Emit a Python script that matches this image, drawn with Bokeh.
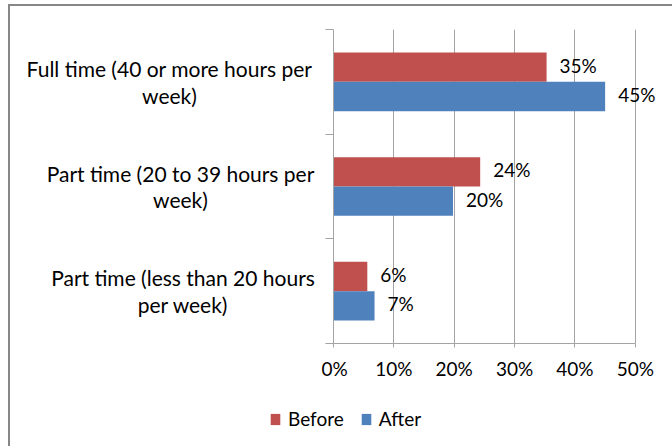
from bokeh.plotting import figure
from bokeh.layouts import column, row
from bokeh.models import (ColumnDataSource, Legend, LegendItem, FixedTicker, Range1d)
from bokeh.core.properties import value
from bokeh.embed import file_html
from bokeh.resources import INLINE

# ---- data ----
categories = [
    "Full time (40 or more hours per\nweek)",
    "Part time (20 to 39 hours per\nweek)",
    "Part time (less than 20 hours\nper week)",
]
series = ["Before", "After"]
before = [35.3, 24.3, 5.6]
after = [45.0, 19.8, 6.8]
x_ticks = [0, 10, 20, 30, 40, 50]
x_tick_labels = ["0%", "10%", "20%", "30%", "40%", "50%"]

# ---- styles ----
FONT = "Lato"
FS = "19px"
FS_CAT = "21px"
RED = "#C0504D"
BLUE = "#4F81BD"
GRID = "#A3A3A3"
n = len(categories)
centers = [n - i - 0.5 for i in range(n)]
off = 0.14
bh = 0.28

W_LAB, W_PLOT, H_TOP, H_LEG = 311, 351, 390, 50
common = dict(output_backend="svg", toolbar_location=None)

# ---- main plot ----
p = figure(width=W_PLOT, height=H_TOP, x_range=Range1d(0, 55), y_range=Range1d(0, n),
           min_border_left=12, min_border_right=7, min_border_top=23,
           min_border_bottom=53, **common)
p.outline_line_color = None

src_b = ColumnDataSource(dict(y=[c + off for c in centers], v=before,
                              lbl=[f"{round(v)}%" for v in before]))
src_a = ColumnDataSource(dict(y=[c - off for c in centers], v=after,
                              lbl=[f"{round(v)}%" for v in after]))

p.hbar(y="y", right="v", left=0, height=bh, source=src_b, fill_color=RED, line_color=None)
p.hbar(y="y", right="v", left=0, height=bh, source=src_a, fill_color=BLUE, line_color=None)

for src in (src_b, src_a):
    p.text(x="v", y="y", text="lbl", source=src, x_offset=13, y_offset=-2,
           text_baseline="middle", text_align="left", text_font=value(FONT),
           text_font_size=FS, text_color="black")

p.xgrid.ticker = FixedTicker(ticks=x_ticks)
p.xgrid.grid_line_color = GRID
p.ygrid.grid_line_color = None

xa = p.xaxis[0]
xa.ticker = FixedTicker(ticks=x_ticks)
xa.major_label_overrides = {t: l for t, l in zip(x_ticks, x_tick_labels)}
xa.bounds = (0, 50)
xa.axis_line_color = GRID
xa.major_tick_line_color = GRID
xa.major_tick_out = 4
xa.major_tick_in = 0
xa.minor_tick_line_color = None
xa.major_label_standoff = 9
xa.major_label_text_font = FONT
xa.major_label_text_font_size = FS
xa.major_label_text_color = "black"

ya = p.yaxis[0]
ya.ticker = FixedTicker(ticks=list(range(n + 1)))
ya.major_label_overrides = {i: "" for i in range(n + 1)}
ya.major_label_standoff = 0
ya.axis_line_color = GRID
ya.major_tick_line_color = GRID
ya.major_tick_out = 8
ya.major_tick_in = 0
ya.minor_tick_line_color = None

# ---- category labels (left strip sharing the y scale) ----
lab = figure(width=W_LAB, height=H_TOP, x_range=Range1d(0, W_LAB), y_range=p.y_range,
             min_border_left=0, min_border_right=0, min_border_top=23,
             min_border_bottom=53, x_axis_type=None, y_axis_type=None, **common)
lab.outline_line_color = None
label_x = [159, 170, 172.5]
lab.text(x=label_x, y=centers, text=categories, text_align="center",
         text_baseline="middle", text_line_height=1.07, text_font=value(FONT),
         text_font_size=FS_CAT, text_color="black")

# ---- legend strip (legend renderers kept out of view) ----
leg = figure(width=W_PLOT + W_LAB, height=H_LEG, x_range=Range1d(-2, -1),
             y_range=Range1d(10, 11), min_border=0, x_axis_type=None,
             y_axis_type=None, **common)
leg.outline_line_color = None
lr_b = leg.hbar(y="y", right="v", left=0, height=bh, source=src_b, fill_color=RED, line_color=None)
lr_a = leg.hbar(y="y", right="v", left=0, height=bh, source=src_a, fill_color=BLUE, line_color=None)
legend = Legend(items=[LegendItem(label=series[0], renderers=[lr_b]),
                       LegendItem(label=series[1], renderers=[lr_a])],
                orientation="horizontal", location=(259, 16),
                glyph_width=12, glyph_height=14, label_standoff=7, spacing=16,
                padding=0, margin=0, border_line_color=None,
                background_fill_alpha=0, label_text_font=FONT,
                label_text_color="black",
                label_text_font_size=FS, label_height=14)
leg.add_layout(legend)

layout = column(row(lab, p), leg,
                styles={"margin-left": "8px", "margin-top": "4px",
                        "border-left": "2px solid #878787",
                        "border-top": "2px solid #878787"})

open("out.html", "w").write(file_html(layout, INLINE))
